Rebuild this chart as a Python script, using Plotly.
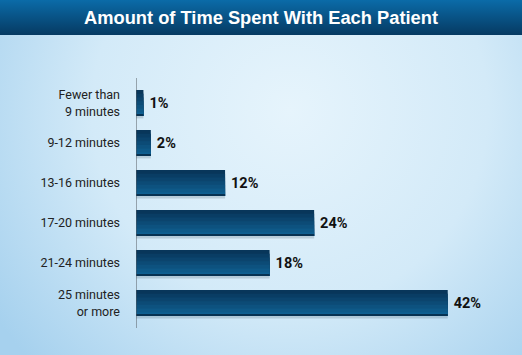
import base64
import plotly.graph_objects as go

categories = ["Fewer than<br>9 minutes", "9-12 minutes", "13-16 minutes",
              "17-20 minutes", "21-24 minutes", "25 minutes<br>or more"]
values = [1, 2, 12, 24, 18, 42]
title_text = "Amount of Time Spent With Each Patient"

W, H = 522, 355
L, T = 136, 83
PW, PH = 334, 240
XMAX = 45

pos = list(range(len(categories)))

svg = f"""<svg xmlns='http://www.w3.org/2000/svg' width='{W}' height='{H}' viewBox='0 0 {W} {H}' preserveAspectRatio='none'>
<defs>
<radialGradient id='bg' cx='290' cy='110' r='360' gradientUnits='userSpaceOnUse'>
<stop offset='0' stop-color='#e6f4fc'/>
<stop offset='0.55' stop-color='#d3eaf8'/>
<stop offset='1' stop-color='#a6d1ee'/>
</radialGradient>
<linearGradient id='tb' x1='0' y1='0' x2='0' y2='1'>
<stop offset='0' stop-color='#0b6ba8'/>
<stop offset='1' stop-color='#063a62'/>
</linearGradient>
</defs>
<rect x='0' y='0' width='{W}' height='{H}' fill='url(#bg)'/>
<rect x='0' y='0' width='{W}' height='35' fill='url(#tb)'/>
</svg>"""
uri = "data:image/svg+xml;base64," + base64.b64encode(svg.encode()).decode()

fig = go.Figure()

half = 0.325
# shadow
fig.add_trace(go.Bar(y=pos, x=values, orientation="h", width=2 * half, offset=-half + 0.06,
                     marker=dict(color="rgba(40,60,80,0.18)", line=dict(width=0)),
                     hoverinfo="skip", showlegend=False))
# gradient steps, dark top to lighter bottom
steps = ["#08365a", "#093d64", "#0b446d", "#0c4b76", "#0d527f", "#0e5988", "#0f5f91"]
n = len(steps)
for i, c in enumerate(steps):
    w = 2 * half * (n - i) / n
    fig.add_trace(go.Bar(y=pos, x=values, orientation="h", width=w, offset=half - w,
                         marker=dict(color=c, line=dict(width=0)),
                         hoverinfo="skip", showlegend=False))
# bottom dark edge
fig.add_trace(go.Bar(y=pos, x=values, orientation="h", width=0.03, offset=half - 0.03,
                     marker=dict(color="#073252", line=dict(width=0)),
                     hoverinfo="skip", showlegend=False))
# labels
fig.add_trace(go.Bar(y=pos, x=values, orientation="h", width=2 * half, offset=-half,
                     marker=dict(color="rgba(0,0,0,0)", line=dict(width=0)),
                     text=[f"\u2009<b>{v}%</b>" for v in values], textposition="outside",
                     textfont=dict(family="Roboto, Liberation Sans, sans-serif",
                                   size=14.5, color="#111111"),
                     cliponaxis=False, hoverinfo="skip", showlegend=False))

fig.add_shape(type="line", xref="x", yref="paper", x0=0, x1=0,
              y0=-5 / PH, y1=1 + 5 / PH, line=dict(color="#555a60", width=1))

fig.add_layout_image(dict(source=uri, xref="paper", yref="paper",
                          x=-L / PW, y=1 + T / PH, sizex=W / PW, sizey=H / PH,
                          xanchor="left", yanchor="top", sizing="stretch", layer="below"))

fig.update_layout(
    width=W, height=H,
    margin=dict(l=L, r=W - L - PW, t=T, b=H - T - PH, pad=0),
    paper_bgcolor="#d3eaf8", plot_bgcolor="rgba(0,0,0,0)",
    barmode="overlay", uniformtext=dict(mode=False),
    title=dict(text=f"<b>{title_text}</b>", x=0.5, xanchor="center",
               y=1 - 17.5 / H, yanchor="middle", yref="container",
               font=dict(family="Liberation Sans, Arial, sans-serif", size=18.3, color="white")),
    xaxis=dict(range=[0, XMAX], visible=False, fixedrange=True),
    yaxis=dict(range=[len(categories) - 0.5, -0.5], tickmode="array", tickvals=pos,
               ticktext=categories, showgrid=False, zeroline=False, showline=False,
               ticks="", ticklabelstandoff=15,
               tickfont=dict(family="Roboto, Liberation Sans, sans-serif",
                             size=12.5, color="#222222")),
    showlegend=False,
)

fig.write_html("out.html")
